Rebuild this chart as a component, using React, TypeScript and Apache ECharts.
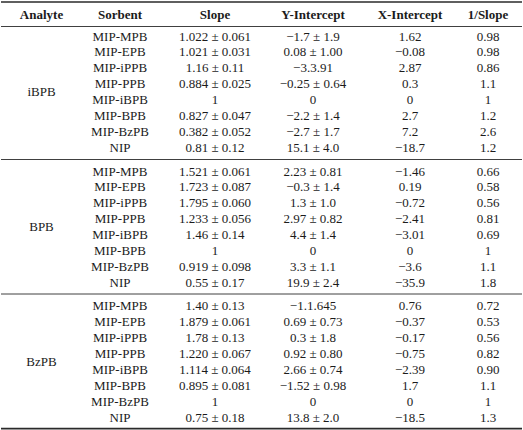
import React, { useEffect, useRef } from "react";
import * as echarts from "echarts";

// ---- table content ----
const headers = ["Analyte", "Sorbent", "Slope", "Y-Intercept", "X-Intercept", "1/Slope"];
const analytes = ["iBPB", "BPB", "BzPB"];
const sorbents = ["MIP-MPB", "MIP-EPB", "MIP-iPPB", "MIP-PPB", "MIP-iBPB", "MIP-BPB", "MIP-BzPB", "NIP"];

const slopeIBPB = ["1.022 ± 0.061", "1.021 ± 0.031", "1.16 ± 0.11", "0.884 ± 0.025", "1", "0.827 ± 0.047", "0.382 ± 0.052", "0.81 ± 0.12"];
const yIntIBPB = ["−1.7 ± 1.9", "0.08 ± 1.00", "−3.3.91", "−0.25 ± 0.64", "0", "−2.2 ± 1.4", "−2.7 ± 1.7", "15.1 ± 4.0"];
const xIntIBPB = ["1.62", "−0.08", "2.87", "0.3", "0", "2.7", "7.2", "−18.7"];
const invSlopeIBPB = ["0.98", "0.98", "0.86", "1.1", "1", "1.2", "2.6", "1.2"];

const slopeBPB = ["1.521 ± 0.061", "1.723 ± 0.087", "1.795 ± 0.060", "1.233 ± 0.056", "1.46 ± 0.14", "1", "0.919 ± 0.098", "0.55 ± 0.17"];
const yIntBPB = ["2.23 ± 0.81", "−0.3 ± 1.4", "1.3 ± 1.0", "2.97 ± 0.82", "4.4 ± 1.4", "0", "3.3 ± 1.1", "19.9 ± 2.4"];
const xIntBPB = ["−1.46", "0.19", "−0.72", "−2.41", "−3.01", "0", "−3.6", "−35.9"];
const invSlopeBPB = ["0.66", "0.58", "0.56", "0.81", "0.69", "1", "1.1", "1.8"];

const slopeBzPB = ["1.40 ± 0.13", "1.879 ± 0.061", "1.78 ± 0.13", "1.220 ± 0.067", "1.114 ± 0.064", "0.895 ± 0.081", "1", "0.75 ± 0.18"];
const yIntBzPB = ["−1.1.645", "0.69 ± 0.73", "0.3 ± 1.8", "0.92 ± 0.80", "2.66 ± 0.74", "−1.52 ± 0.98", "0", "13.8 ± 2.0"];
const xIntBzPB = ["0.76", "−0.37", "−0.17", "−0.75", "−2.39", "1.7", "0", "−18.5"];
const invSlopeBzPB = ["0.72", "0.53", "0.56", "0.82", "0.90", "1.1", "1", "1.3"];

const groupColumns = [
  [slopeIBPB, yIntIBPB, xIntIBPB, invSlopeIBPB],
  [slopeBPB, yIntBPB, xIntBPB, invSlopeBPB],
  [slopeBzPB, yIntBzPB, xIntBzPB, invSlopeBzPB],
];

// ---- layout (pixel units in a 523 x 430 coordinate space) ----
const W = 523;
const H = 430;
const colX = [41.5, 120, 215, 313, 410, 488];
const headerY = 14;
const groupStartY = [36, 171, 305.7];
const rowStep = 15.9;
const FONT = "Liberation Serif";
const TEXT_COLOR = "#1b1b1b";
const RULE_COLOR = "#2a2a2a";
const rules: [number, number, number, number, number][] = [
  [1, 2, 522, 2, 1.6],
  [1, 26.5, 522, 26.5, 0.9],
  [1, 159.5, 522, 159.5, 0.9],
  [1, 294, 522, 294, 0.9],
  [1, 428.6, 522, 428.6, 1.6],
];

type Cell = { value: [number, number]; text: string; bold: boolean };

function buildCells(): Cell[] {
  const cells: Cell[] = [];
  headers.forEach((h, c) => cells.push({ value: [colX[c], headerY], text: h, bold: true }));
  analytes.forEach((a, g) => {
    const y0 = groupStartY[g];
    const yMid = y0 + (rowStep * (sorbents.length - 1)) / 2;
    cells.push({ value: [colX[0], yMid], text: a, bold: false });
    sorbents.forEach((s, r) => {
      const y = y0 + r * rowStep;
      cells.push({ value: [colX[1], y], text: s, bold: false });
      groupColumns[g].forEach((col, k) => {
        cells.push({ value: [colX[k + 2], y], text: col[r], bold: false });
      });
    });
  });
  return cells;
}

export default function App() {
  const ref = useRef<HTMLDivElement>(null);
  useEffect(() => {
    if (!ref.current) return;
    const chart = echarts.init(ref.current, undefined, { renderer: "svg" });
    const cells = buildCells();
    chart.setOption({
      animation: false,
      backgroundColor: "#ffffff",
      grid: { left: 0, right: 0, top: 0, bottom: 0 },
      xAxis: { type: "value", min: 0, max: W, show: false },
      yAxis: { type: "value", min: 0, max: H, inverse: true, show: false },
      series: [
        {
          type: "custom",
          silent: true,
          clip: false,
          data: rules.map((r) => r),
          renderItem: (params: any, api: any) => {
            const p1 = api.coord([api.value(0), api.value(1)]);
            const p2 = api.coord([api.value(2), api.value(3)]);
            return {
              type: "line",
              shape: { x1: p1[0], y1: p1[1], x2: p2[0], y2: p2[1] },
              style: { stroke: RULE_COLOR, lineWidth: api.value(4) },
            };
          },
        },
        {
          type: "custom",
          silent: true,
          clip: false,
          data: cells.map((c) => c.value),
          renderItem: (params: any, api: any) => {
            const cell = cells[params.dataIndex];
            const p = api.coord([api.value(0), api.value(1)]);
            return {
              type: "text",
              x: p[0],
              y: p[1],
              style: {
                text: cell.text,
                fontFamily: FONT,
                fontSize: 13,
                fontWeight: cell.bold ? "bold" : "normal",
                fill: TEXT_COLOR,
                align: "center",
                verticalAlign: "middle",
              },
            };
          },
        },
      ],
    });
    return () => chart.dispose();
  }, []);
  return (
    <div
      ref={ref}
      style={{ position: "fixed", left: 0, top: 0, width: W, height: H, background: "#fff" }}
    />
  );
}
